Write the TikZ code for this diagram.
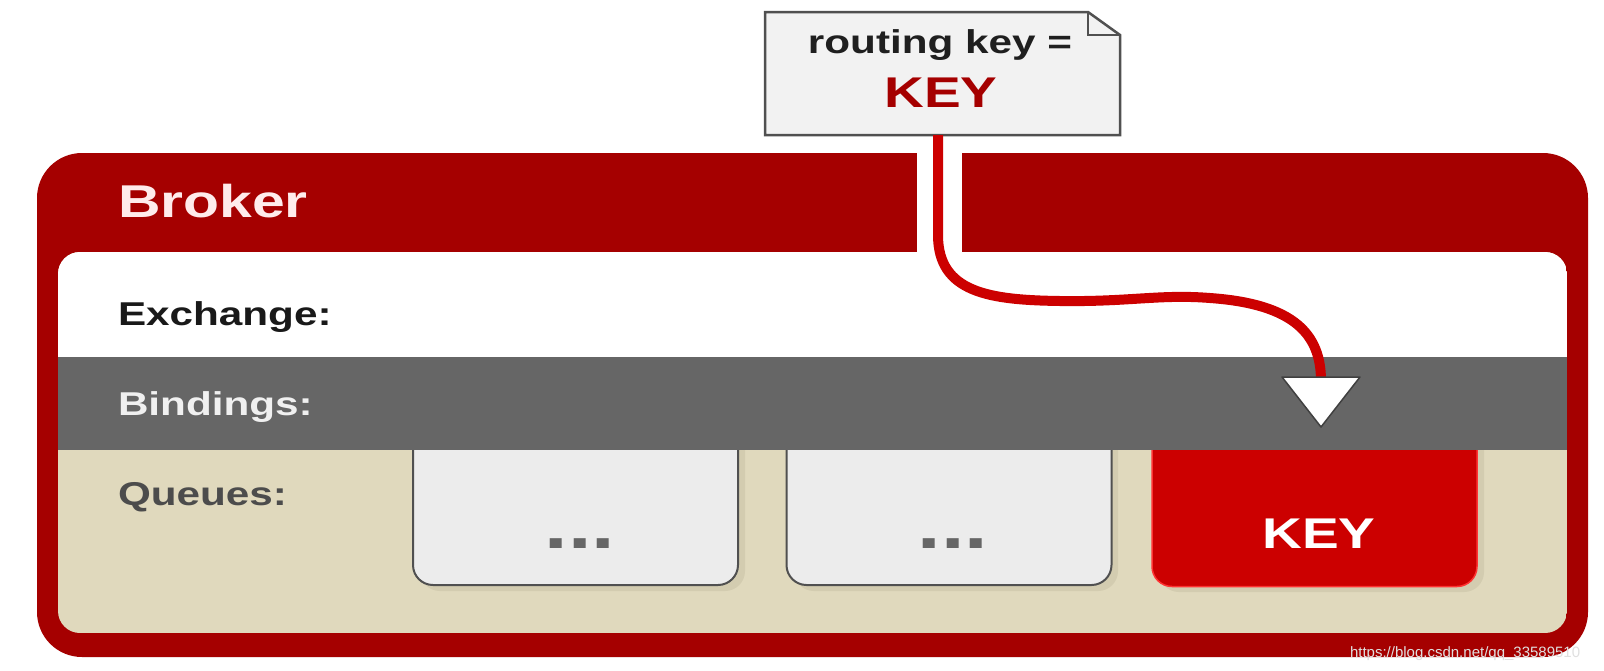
\documentclass[tikz,border=0pt]{standalone}
\usepackage{fontspec}
\setmainfont{Liberation Sans}
\newfontfamily\lab{Liberation Sans}[FakeStretch=1.28]
\definecolor{brokerred}{HTML}{A50000}
\definecolor{keyred}{HTML}{CC0000}
\definecolor{bandgray}{HTML}{666666}
\definecolor{beige}{HTML}{E0D9BD}
\definecolor{shade}{HTML}{D3CCB0}
\definecolor{qfill}{HTML}{ECECEC}
\definecolor{notefill}{HTML}{F2F2F2}
\definecolor{edge}{HTML}{505050}
\begin{document}
\begin{tikzpicture}[x=1pt,y=-1pt,
  every node/.style={inner sep=0pt, outer sep=0pt},
  rowlabel/.style={anchor=base west, font=\lab\bfseries\fontsize{33}{33}\selectfont},
  qbox/.style={draw=edge, line width=2pt, fill=qfill, rounded corners=20pt, minimum width=325pt, minimum height=165pt},
  keybox/.style={draw=red!80!white, line width=1.5pt, fill=keyred, rounded corners=20pt, minimum width=325pt, minimum height=165pt},
  qshadow/.style={fill=shade, rounded corners=20pt},
  dots/.style={anchor=base, text=bandgray, font=\lab\bfseries\fontsize{66}{66}\selectfont},
  keytext/.style={anchor=base, font=\lab\bfseries\fontsize{43}{43}\selectfont},
  route/.style={draw=keyred, line width=10pt},
]
\useasboundingbox (0,0) rectangle (1604,670);
\fill[white] (0,0) rectangle (1604,670);

% broker frame
\fill[brokerred, rounded corners=45pt] (37,153) rectangle (1588,657);
\fill[white] (917,150) rectangle (962,254);
\node[anchor=base west, text=white!92!red, font=\lab\bfseries\fontsize{46}{46}\selectfont] (broker) at (118,217) {Broker};

\begin{scope}
  \clip[rounded corners=22pt] (58,252) rectangle (1567,633);
  \fill[beige] (58,252) rectangle (1567,633);
  \fill[white] (58,252) rectangle (1567,357);
  % queue shadows
  \fill[qshadow] (420,426) rectangle (745,591);
  \fill[qshadow] (794,426) rectangle (1118,591);
  \fill[qshadow] (1159,426) rectangle (1484,592);
  % queues
  \node[qbox] (q1) at (575.5,502.5) {};
  \node[qbox] (q2) at (949,502.5) {};
  \node[keybox] (q3) at (1314.5,504) {};
  % bindings band
  \fill[bandgray] (58,357) rectangle (1567,450);
\end{scope}

\node[dots] (d1) at (580,548) {...};
\node[dots] (d2) at (953,548) {...};
\node[keytext, text=white] (k3) at (1319,548) {KEY};

\node[rowlabel, text=black!90] (exch) at (118,325) {Exchange:};
\node[rowlabel, text=white!94!black] (bind) at (118,415) {Bindings:};
\node[rowlabel, text=black!70] (queues) at (118,505) {Queues:};

% routing key note
\node[minimum width=355pt, minimum height=123pt] (note) at (942.5,73.5) {};
\draw[fill=notefill, draw=edge, line width=2.5pt, line join=miter]
  (note.north west) -- ([xshift=-32pt]note.north east) -- ([yshift=-23pt]note.north east)
  -- (note.south east) -- (note.south west) -- cycle;
\draw[draw=edge, line width=2pt]
  ([xshift=-32pt]note.north east) -- ([xshift=-32pt,yshift=-23pt]note.north east) -- ([yshift=-23pt]note.north east);
\node[anchor=base, font=\lab\bfseries\fontsize{33}{33}\selectfont, text=black!88] (rk) at (940,53) {routing key =};
\node[keytext, text=brokerred] (rkv) at (941,107) {KEY};

% route to binding
\coordinate (tri) at (1321,377);
\draw[route] ([xshift=-4.5pt]note.south) -- ++(0,100)
  .. controls ++(0,58) and (990,300) .. (1060,301)
  .. controls (1130,302) and (1160,294) .. (1210,298)
  .. controls (1295,304) and (1321,335) .. ([yshift=-4pt]tri);
\draw[fill=white, draw=black!75, line width=1.5pt, line join=round]
  ([xshift=-39pt]tri) -- ([xshift=39pt]tri) -- ([yshift=-50pt]tri) -- cycle;

% watermark
\node[anchor=base west, text=white!88!black, font=\fontsize{15}{15}\selectfont] (wm) at (1350,657) {https://blog.csdn.net/qq\_33589510};
\end{tikzpicture}
\end{document}
